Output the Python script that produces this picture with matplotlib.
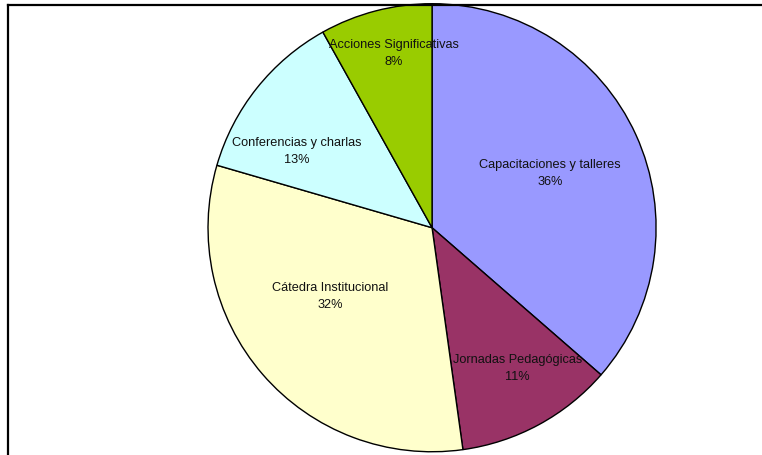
import matplotlib.pyplot as plt
from matplotlib.lines import Line2D

plt.rcParams['font.family'] = ['Liberation Sans', 'DejaVu Sans']

categorias = ["Capacitaciones y talleres", "Jornadas Pedagógicas", "Cátedra Institucional",
              "Conferencias y charlas", "Acciones Significativas"]
valores = [36.4, 11.4, 31.7, 12.4, 8.1]
porcentajes = ["36%", "11%", "32%", "13%", "8%"]  # etiquetas tal como aparecen
colores = ["#9999FF", "#993366", "#FFFFCC", "#CCFFFF", "#99CC00"]
# posicion de cada etiqueta (fraccion del radio, relativa al centro)
pos_etiquetas = [(0.527, 0.241), (0.382, -0.629), (-0.455, -0.308), (-0.603, 0.339), (-0.172, 0.777)]

fig = plt.figure(figsize=(7.62, 4.55), dpi=100)
ax = fig.add_axes([0.273, 0.007, 0.588, 0.985])

ax.pie(valores, colors=colores, startangle=90, counterclock=False, radius=1,
       wedgeprops=dict(edgecolor="black", linewidth=1.0))

for nombre, pct, (px, py) in zip(categorias, porcentajes, pos_etiquetas):
    ax.text(px, py, nombre + "\n" + pct, ha="center", va="center",
            fontsize=9.2, linespacing=1.6, color="#111111")

ax.set_xlim(-1, 1)
ax.set_ylim(-1, 1)
ax.set_aspect("equal")
ax.axis("off")

# marco del grafico (solo lados izquierdo y superior visibles)
fig.add_artist(Line2D([8 / 762, 1.0], [1 - 4.5 / 455, 1 - 4.5 / 455], transform=fig.transFigure,
                      color="black", lw=1.6))
fig.add_artist(Line2D([8 / 762, 8 / 762], [0, 1 - 4.5 / 455], transform=fig.transFigure,
                      color="black", lw=1.6))

fig.savefig("out.png", dpi=100)
